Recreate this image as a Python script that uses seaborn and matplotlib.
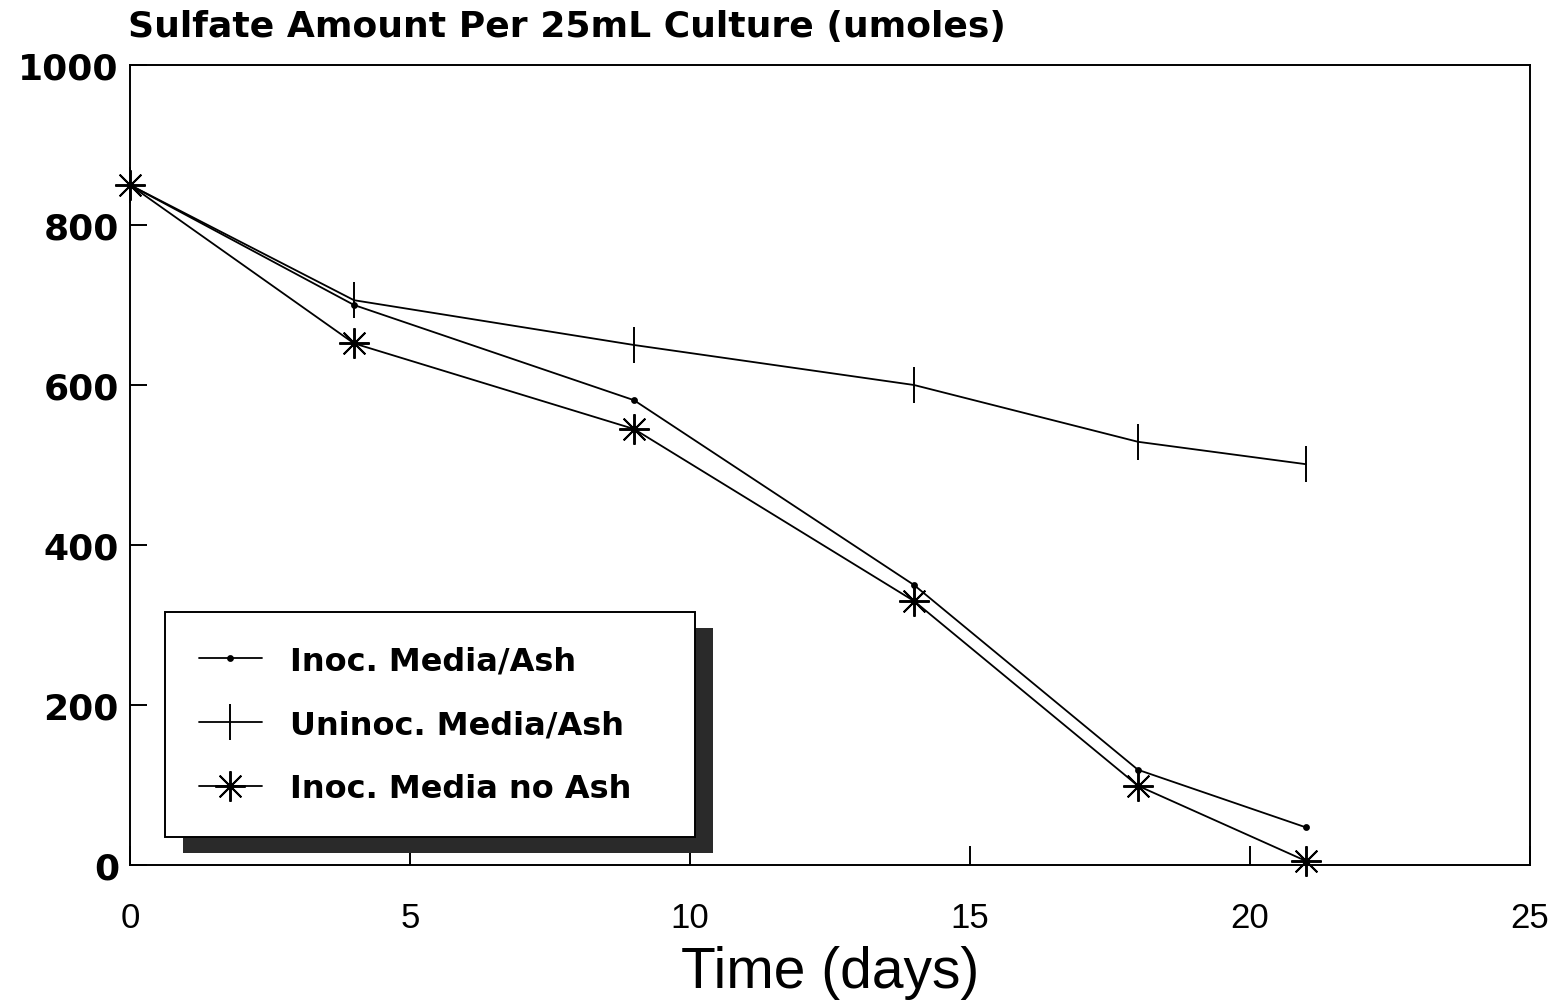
import matplotlib
matplotlib.use("Agg")
import matplotlib.pyplot as plt
import seaborn as sns
import pandas as pd
from matplotlib.patches import Rectangle
from matplotlib.transforms import IdentityTransform

days = [0, 4, 9, 14, 18, 21]
inoc_ash = [850, 700, 581, 350, 119, 47]
uninoc_ash = [850, 706, 650, 600, 529, 501]
inoc_no_ash = [850, 652, 545, 330, 99, 5]
series_names = ["Inoc. Media/Ash", "Uninoc. Media/Ash", "Inoc. Media no Ash"]
x_ticks = [0, 5, 10, 15, 20, 25]
y_ticks = [0, 200, 400, 600, 800, 1000]

sns.set_theme(style="white")
plt.rcParams['font.family'] = ['DejaVu Sans']
plt.rcParams['text.color'] = 'black'
plt.rcParams['xtick.color'] = 'black'
plt.rcParams['ytick.color'] = 'black'
plt.rcParams['axes.labelcolor'] = 'black'

NARROW = ['Liberation Sans Narrow', 'Liberation Sans', 'DejaVu Sans']

fig = plt.figure(figsize=(15.57, 10.03), dpi=100)
ax = fig.add_axes([130/1557, 137/1003, 1400/1557, 800/1003])

markers = ['.', '|', (8, 2, 0)]
msizes = [7, 26, 22]
for vals, name, mk, ms in zip([inoc_ash, uninoc_ash, inoc_no_ash], series_names, markers, msizes):
    df = pd.DataFrame({"day": days, "val": vals})
    sns.lineplot(data=df, x="day", y="val", ax=ax, color="black", linewidth=1.3,
                 marker=mk, markersize=ms, markeredgewidth=1.4, markeredgecolor="black",
                 markerfacecolor="black", label=name, clip_on=False)

ax.set_xlim(0, 25)
ax.set_ylim(0, 1000)
ax.set_xticks(x_ticks)
ax.set_yticks(y_ticks)
for s in ax.spines.values():
    s.set_color("black")
    s.set_linewidth(1.4)
ax.tick_params(axis='both', direction='in', length=14, width=1.4, color='black',
               bottom=True, left=True, top=False, right=False)
ax.tick_params(axis='y', length=12, pad=8)
ax.tick_params(axis='x', pad=26)
ax.set_xticklabels([str(t) for t in x_ticks], fontsize=25, family=NARROW)
ax.set_yticklabels([str(t) for t in y_ticks], fontsize=26, fontweight='bold')
ax.set_xlabel("Time (days)", fontsize=41, labelpad=8, family=NARROW)
ax.set_ylabel("")
fig.text(128/1557, 1 - 27/1003, "Sulfate Amount Per 25mL Culture (umoles)",
         fontsize=26, fontweight='bold', ha='left', va='center')

leg = ax.legend(loc='upper left',
                bbox_to_anchor=(35/1400, (866-837)/800, 530/1400, 224/800),
                mode='expand', borderaxespad=0, frameon=True, fancybox=False,
                shadow=False, edgecolor='black', framealpha=1, handlelength=2.0,
                borderpad=1.05, labelspacing=1.02, handletextpad=0.85,
                prop={'weight': 'bold', 'size': 23, 'family': 'DejaVu Sans'})
leg.get_frame().set_linewidth(1.4)
leg.set_zorder(10)
for h in leg.get_lines():
    h.set_linewidth(1.3)

fig.canvas.draw()
bb = leg.get_window_extent()
shadow = Rectangle((bb.x0 + 18, bb.y0 - 16), bb.width, bb.height,
                   transform=IdentityTransform(), facecolor='#2a2a2a',
                   edgecolor='none', zorder=9)
ax.add_artist(shadow)

fig.savefig("out.png", dpi=100)
